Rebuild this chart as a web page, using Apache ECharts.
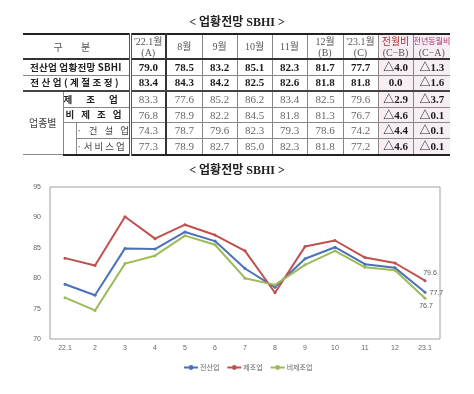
<!DOCTYPE html>
<html>
<head>
<meta charset="utf-8">
<script src="https://cdn.jsdelivr.net/npm/echarts@6/dist/echarts.min.js"></script>
<style>
  html, body { margin:0; padding:0; background:#fff; width:474px; height:394px; overflow:hidden; }
  #chart { position:absolute; left:0; top:0; width:474px; height:394px; }
  #tbl { position:absolute; left:23px; top:33px; width:427px; border-collapse:collapse; table-layout:fixed;
         font-family:"Liberation Serif","Noto Sans CJK KR",serif; color:#333; }
  #tbl td { padding:0; text-align:center; vertical-align:middle; border:1px solid #888; white-space:nowrap; overflow:hidden; line-height:1; }
  #tbl tr.hdr td { height:21px; font-size:10px; color:#555; line-height:11px; border-top:2px solid #222; border-bottom:2px solid #333; }
  #tbl tr.r td { height:14.6px; font-size:11px; }
  #tbl tr.last td { border-bottom:2px solid #222; }
  #tbl tr td.lab { font-family:"Noto Sans CJK KR",sans-serif; font-size:9.5px; font-weight:bold; color:#222; }
  #tbl tr td.labn { font-family:"Noto Sans CJK KR",sans-serif; font-size:9.5px; font-weight:normal; color:#444; }
  #tbl tr td.b { font-weight:bold; color:#1a1a1a; }
  #tbl tr td.n { font-weight:normal; color:#666; }
  #tbl td.pk { background:#f7eef5; }
  #tbl td.sep { border-right:3px double #555; }
  #tbl td.thick { border-right:2px solid #333; }
  #tbl td.nl { border-left:none; }
  #tbl td.nr { border-right:none; }
  #tbl .red { color:#a33; }
</style>
</head>
<body>
<div id="chart"></div>
<table id="tbl"></table>
<script>
// ---- data ----
var categories = ['22.1', '2', '3', '4', '5', '6', '7', '8', '9', '10', '11', '12', '23.1'];
var allIndustry = [79.0, 77.2, 84.9, 84.8, 87.6, 86.1, 81.6, 78.5, 83.2, 85.1, 82.3, 81.7, 77.7];
var manufacturing = [83.3, 82.1, 90.1, 86.5, 88.8, 87.1, 84.5, 77.6, 85.2, 86.2, 83.4, 82.5, 79.6];
var nonManufacturing = [76.8, 74.7, 82.4, 83.7, 87.0, 85.5, 80.0, 78.9, 82.2, 84.5, 81.8, 81.3, 76.7];
var seriesNames = ['전산업', '제조업', '비제조업'];
var yTicks = [70, 75, 80, 85, 90, 95];

var titleText = '< 업황전망 SBHI >';
var tableHeaders = ["'22.1월\n(A)", '8월', '9월', '10월', '11월', '12월\n(B)', "'23.1월\n(C)", '전월비\n(C−B)', '전년동월비\n(C−A)'];
var rowSBHI = ['79.0', '78.5', '83.2', '85.1', '82.3', '81.7', '77.7', '△4.0', '△1.3'];
var rowSeasonal = ['83.4', '84.3', '84.2', '82.5', '82.6', '81.8', '81.8', '0.0', '△1.6'];
var rowMfg = ['83.3', '77.6', '85.2', '86.2', '83.4', '82.5', '79.6', '△2.9', '△3.7'];
var rowNonMfg = ['76.8', '78.9', '82.2', '84.5', '81.8', '81.3', '76.7', '△4.6', '△0.1'];
var rowConstr = ['74.3', '78.7', '79.6', '82.3', '79.3', '78.6', '74.2', '△4.4', '△0.1'];
var rowService = ['77.3', '78.9', '82.7', '85.0', '82.3', '81.8', '77.2', '△4.6', '△0.1'];

// ---- table ----
var colWidths = [40, 13, 54, 36, 36, 35, 35, 35, 36, 35, 35, 37];
function dataCells(vals, strong, extra) {
  var h = '';
  for (var i = 0; i < vals.length; i++) {
    var cls = (i >= 7 || strong) ? 'b' : 'n';
    if (i === 0) cls += ' thick';
    if (i >= 7) cls += ' pk';
    if (i === vals.length - 1) cls += ' nr';
    h += '<td class="' + cls + '"' + (extra ? ' style="' + extra + '"' : '') + '>' + vals[i] + '</td>';
  }
  return h;
}
var html = '<colgroup>';
colWidths.forEach(function (w) { html += '<col style="width:' + w + 'px">'; });
html += '</colgroup>';
html += '<tr class="hdr"><td colspan="3" class="labn sep nl" style="color:#555;letter-spacing:8px;font-size:10px">구 분</td>';
tableHeaders.forEach(function (t, i) {
  var cls = '';
  if (i === 0) cls += ' thick';
  if (i >= 7) cls += ' pk';
  if (i === tableHeaders.length - 1) cls += ' nr';
  var parts = t.split('\n');
  var inner = parts.length > 1 ? parts[0] + '<br>' + parts[1] : t;
  if (i === 7) inner = '<span class="red">' + parts[0] + '</span><br>' + parts[1];
  if (i === 8) inner = '<span style="font-size:8px;color:#a36">' + parts[0] + '</span><br>' + parts[1];
  html += '<td class="' + cls + '">' + inner + '</td>';
});
html += '</tr>';
html += '<tr class="r"><td colspan="3" class="lab sep nl" style="font-size:9.6px;letter-spacing:0.2px">전산업 업황전망 SBHI</td>' + dataCells(rowSBHI, true) + '</tr>';
html += '<tr class="r"><td colspan="3" class="lab sep nl" style="letter-spacing:2.5px;border-bottom:2px solid #444">전산업(계절조정)</td>' + dataCells(rowSeasonal, true, 'border-bottom:2px solid #444') + '</tr>';
html += '<tr class="r"><td rowspan="4" class="labn nl" style="font-size:10px">업종별</td><td colspan="2" class="lab sep" style="letter-spacing:14px;text-align:right">제조업</td>' + dataCells(rowMfg, false) + '</tr>';
html += '<tr class="r"><td colspan="2" class="lab sep" style="letter-spacing:7px;text-align:right">비제조업</td>' + dataCells(rowNonMfg, false) + '</tr>';
html += '<tr class="r"><td rowspan="2" class="labn" style="border-bottom:2px solid #222"></td><td class="labn sep" style="letter-spacing:7px;text-align:left">·건설업</td>' + dataCells(rowConstr, false) + '</tr>';
html += '<tr class="r last"><td class="labn sep" style="letter-spacing:2px;text-align:left">·서비스업</td>' + dataCells(rowService, false) + '</tr>';
document.getElementById('tbl').innerHTML = html;

// ---- chart ----
var colors = ['#4a72b8', '#c0504d', '#9bbb59'];
var endLabelStyle = [
  { position: 'right', offset: [0, 1] },
  { position: 'top', offset: [5, 0] },
  { position: 'bottom', offset: [1, 0] }
];
function withEndLabel(arr, idx) {
  return arr.map(function (v, i) {
    if (i !== arr.length - 1) return v;
    return { value: v, label: { show: true, position: endLabelStyle[idx].position, offset: endLabelStyle[idx].offset, distance: 3, fontSize: 7, color: '#555', formatter: '{c}' } };
  });
}
var chart = echarts.init(document.getElementById('chart'), null, { renderer: 'canvas' });
var seriesData = [allIndustry, manufacturing, nonManufacturing];
var titleStyle = { fontFamily: '"Liberation Serif","Noto Sans CJK KR"', fontSize: 12, fontWeight: 'bold', color: '#222' };
chart.setOption({
  animation: false,
  title: [
    { text: titleText, left: 'center', top: 12, textStyle: titleStyle },
    { text: titleText, left: 'center', top: 160, textStyle: titleStyle }
  ],
  grid: { left: 50, right: 34, top: 187, bottom: 55, show: true, borderColor: '#a0a0a0', borderWidth: 1 },
  legend: {
    data: seriesNames, top: 359, left: 178, itemGap: 7, itemWidth: 14, itemHeight: 6,
    textStyle: { fontSize: 7, color: '#666', fontFamily: '"Noto Sans CJK KR"', padding: [0, 0, 0, -3] }
  },
  xAxis: {
    type: 'category', data: categories, boundaryGap: true,
    axisLine: { show: false }, axisTick: { show: false },
    axisLabel: { fontSize: 7, color: '#666', margin: 6 }
  },
  yAxis: {
    type: 'value', min: yTicks[0], max: yTicks[yTicks.length - 1], interval: 5,
    axisLine: { show: false }, axisTick: { show: false }, splitLine: { show: false },
    axisLabel: { fontSize: 7, color: '#666', margin: 9 }
  },
  series: seriesNames.map(function (name, i) {
    return {
      name: name, type: 'line', data: withEndLabel(seriesData[i], i),
      symbol: 'circle', symbolSize: 3, showSymbol: true,
      lineStyle: { width: 2, color: colors[i] },
      itemStyle: { color: colors[i] }
    };
  })
});
</script>
</body>
</html>
